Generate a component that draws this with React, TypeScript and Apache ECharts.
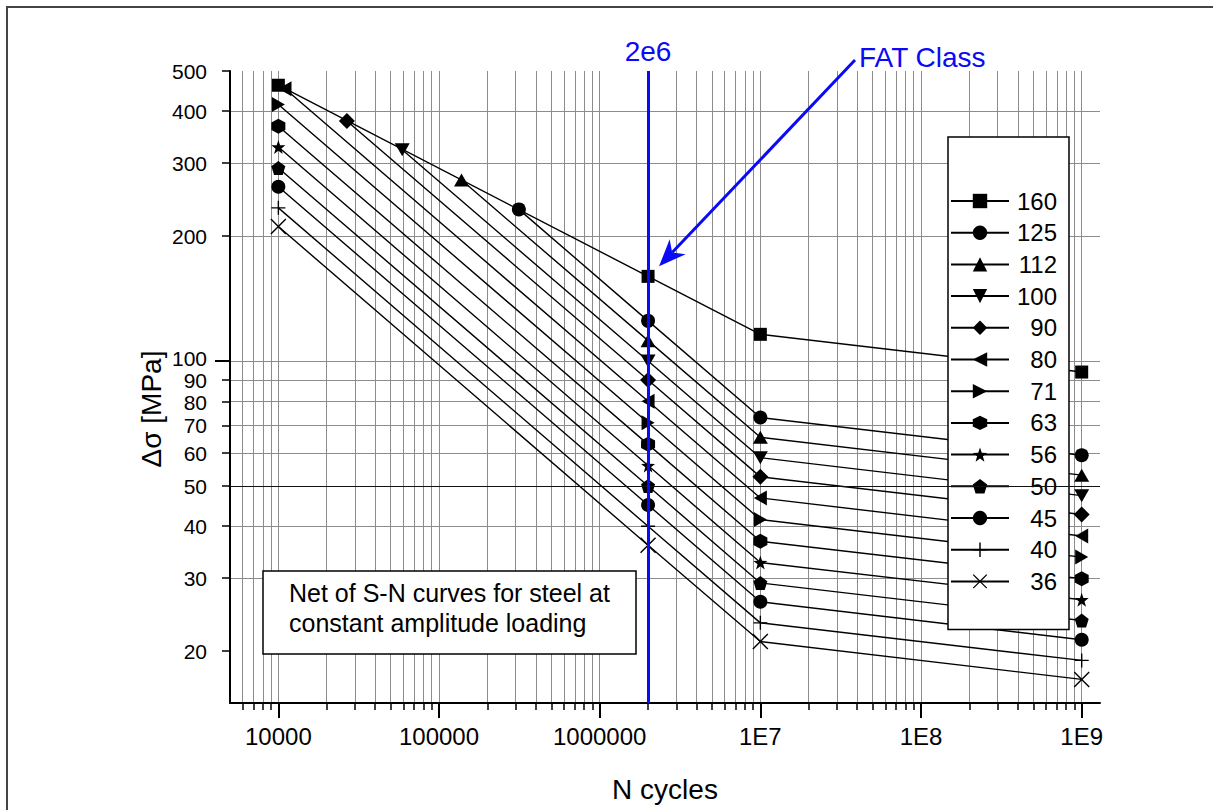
import React, { useEffect, useRef } from 'react';
import * as echarts from 'echarts';

// FAT classes of the S-N curves (legend order)
const fatClasses = ['160', '125', '112', '100', '90', '80', '71', '63', '56', '50', '45', '40', '36'];
// First point of every curve: N = 1e4 or where it meets the FAT 160 curve
const startCycles = [10000, 314000, 138000, 59000, 26700, 11000, 10000, 10000, 10000, 10000, 10000, 10000, 10000];
const startStress = [462, 232, 273, 323, 379, 453, 415, 368, 328, 292, 263, 234, 211];
// Stress ranges at N = 2e6, 1e7 and 1e9
const cyclePoints = [2e6, 1e7, 1e9];
const stressAt2e6 = [160, 125, 112, 100, 90, 80, 71, 63, 56, 50, 45, 40, 36];
const stressAt1e7 = [116, 73.1, 65.5, 58.5, 52.6, 46.8, 41.5, 36.8, 32.7, 29.2, 26.3, 23.4, 21.1];
const stressAt1e9 = [94.1, 59.3, 53.1, 47.4, 42.7, 37.9, 33.7, 29.9, 26.6, 23.7, 21.3, 19.0, 17.1];

// Axis ticks
const xMajorTicks = [1e4, 1e5, 1e6, 1e7, 1e8, 1e9];
const xMajorLabels = ['10000', '100000', '1000000', '1E7', '1E8', '1E9'];
const yTicks = [20, 30, 40, 50, 60, 70, 80, 90, 100, 200, 300, 400, 500];
const yHeavyGrid = 50;

const xGridValues: number[] = [6000, 7000, 8000, 9000];
for (let e = 4; e <= 8; e++) {
  for (let k = 1; k <= 9; k++) xGridValues.push(k * Math.pow(10, e));
}
xGridValues.push(1e9);

const HEXAGON = 'path://M7,0 L14,4 L14,12 L7,16 L0,12 L0,4 Z';
const STAR =
  'path://M10,0 L12.35,6.76 L19.51,6.91 L13.8,11.24 L15.88,18.09 L10,14 L4.12,18.09 L6.2,11.24 L0.49,6.91 L7.65,6.76 Z';
const PENTAGON = 'path://M10,0 L19.51,6.91 L15.88,18.09 L4.12,18.09 L0.49,6.91 Z';
const PLUS = 'path://M6.3,0 L7.7,0 L7.7,6.3 L14,6.3 L14,7.7 L7.7,7.7 L7.7,14 L6.3,14 L6.3,7.7 L0,7.7 L0,6.3 L6.3,6.3 Z';
const CROSS = 'path://M0,1 L1,0 L8,7 L15,0 L16,1 L9,8 L16,15 L15,16 L8,9 L1,16 L0,15 L7,8 Z';

const symbols = ['rect', 'circle', 'triangle', 'triangle', 'diamond', 'triangle', 'triangle', HEXAGON, STAR, PENTAGON, 'circle', PLUS, CROSS];
const symbolSizes: any[] = [13, 14, [15, 13], [15, 13], 16, [15, 13], [15, 13], [14, 15], 14, 14, 14, 14, 16];
const symbolRotates = [0, 0, 0, 180, 0, 90, -90, 0, 0, 0, 0, 0, 0];

const FONT = '"Liberation Sans", Arial, Helvetica, sans-serif';
const BLUE = '#0a0af5';
const GRID_GREY = '#8c8c8c';

// Crowded labels near 100 are nudged apart slightly
function yLabel(v: number) {
  const n = Math.round(v);
  if (n === 100) return `{up|${n}}`;
  if (n === 80) return `{down|${n}}`;
  return `{n|${n}}`;
}

export default function App() {
  const ref = useRef<HTMLDivElement>(null);

  useEffect(() => {
    if (!ref.current) return;
    const chart = echarts.init(ref.current, null, { renderer: 'svg' });

    const curveSeries = fatClasses.map((name, i) => ({
      type: 'line',
      name,
      xAxisIndex: 0,
      yAxisIndex: 0,
      data: [
        [startCycles[i], startStress[i]],
        [cyclePoints[0], stressAt2e6[i]],
        [cyclePoints[1], stressAt1e7[i]],
        [cyclePoints[2], stressAt1e9[i]],
      ],
      symbol: symbols[i],
      symbolSize: symbolSizes[i],
      symbolRotate: symbolRotates[i],
      showAllSymbol: true,
      itemStyle: { color: '#000', borderWidth: 0 },
      lineStyle: { color: '#000', width: 1.4 },
      emphasis: { disabled: true },
      silent: true,
      z: 3,
    }));

    const yLabelStyle = { fontSize: 21, lineHeight: 20, color: '#000', fontFamily: FONT };

    chart.setOption({
      animation: false,
      textStyle: { fontFamily: FONT, color: '#000' },
      grid: { left: 230, top: 71, right: 113, bottom: 107, outerBoundsMode: 'none', containLabel: false },
      legend: {
        data: fatClasses,
        orient: 'vertical',
        left: 948,
        top: 137,
        padding: [52, 12, 36, 2],
        itemWidth: 58,
        itemHeight: 18,
        itemGap: 7.7,
        backgroundColor: '#fff',
        borderColor: '#000',
        borderWidth: 1.5,
        selectedMode: false,
        formatter: (name: string) => `{n|${name}}`,
        textStyle: {
          color: '#000',
          fontSize: 24,
          fontFamily: FONT,
          rich: { n: { width: 43, align: 'right', fontSize: 24, color: '#000', fontFamily: FONT } },
        },
      },
      xAxis: [
        {
          type: 'log',
          logBase: 10,
          min: 5000,
          max: 1.3e9,
          position: 'bottom',
          axisLine: { show: true, onZero: false, lineStyle: { color: '#000', width: 2 } },
          axisTick: { show: true, customValues: xGridValues, length: 7, lineStyle: { color: '#000', width: 1.5 } },
          axisLabel: { show: false },
          splitLine: { show: true, lineStyle: { color: GRID_GREY, width: 1 } },
          minorTick: { show: false },
          minorSplitLine: { show: false },
        },
        {
          type: 'log',
          logBase: 10,
          min: 5000,
          max: 1.3e9,
          position: 'bottom',
          axisLine: { show: false },
          axisTick: { show: true, customValues: xMajorTicks, length: 15, lineStyle: { color: '#000', width: 2 } },
          axisLabel: {
            show: true,
            customValues: xMajorTicks,
            fontSize: 24,
            color: '#000',
            fontFamily: FONT,
            margin: 21,
            formatter: (v: number) => {
              const idx = xMajorTicks.findIndex((t) => Math.abs(Math.log10(t) - Math.log10(v)) < 1e-6);
              return idx >= 0 ? xMajorLabels[idx] : '';
            },
          },
          splitLine: { show: false },
          name: 'N cycles',
          nameLocation: 'middle',
          nameGap: 72,
          nameTextStyle: { fontSize: 28, color: '#000', fontFamily: FONT },
        },
      ],
      yAxis: [
        {
          type: 'log',
          logBase: 10,
          min: 15,
          max: 500,
          position: 'left',
          axisLine: { show: true, onZero: false, lineStyle: { color: '#000', width: 2 } },
          axisTick: { show: true, customValues: yTicks, length: 8, lineStyle: { color: '#000', width: 1.5 } },
          axisLabel: {
            show: true,
            customValues: yTicks,
            margin: 23,
            ...yLabelStyle,
            formatter: yLabel,
            rich: {
              n: { ...yLabelStyle },
              up: { ...yLabelStyle, padding: [0, 0, 6, 0] },
              down: { ...yLabelStyle, padding: [3, 0, 0, 0] },
            },
          },
          splitLine: { show: true, showMaxLine: false, showMinLine: false, lineStyle: { color: GRID_GREY, width: 1 } },
          minorTick: { show: false },
          minorSplitLine: { show: false },
        },
        {
          type: 'log',
          logBase: 10,
          min: 15,
          max: 500,
          position: 'left',
          axisLine: { show: false },
          axisTick: { show: true, customValues: [100], length: 15, lineStyle: { color: '#000', width: 2 } },
          axisLabel: { show: false },
          splitLine: { show: false },
        },
      ],
      series: [
        {
          type: 'line',
          name: 'reference lines',
          data: [],
          xAxisIndex: 0,
          yAxisIndex: 0,
          z: 2,
          silent: true,
          markLine: {
            silent: true,
            symbol: ['none', 'none'],
            emphasis: { disabled: true },
            data: [
              {
                yAxis: yHeavyGrid,
                lineStyle: { color: '#111', width: 1.2, type: 'solid' },
                label: { show: false },
              },
              {
                xAxis: cyclePoints[0],
                lineStyle: { color: BLUE, width: 3, type: 'solid' },
                label: {
                  show: true,
                  position: 'end',
                  formatter: '2e6',
                  color: BLUE,
                  fontSize: 28,
                  fontFamily: FONT,
                  distance: 6,
                },
              },
            ],
          },
        },
        ...curveSeries,
      ],
    });

    // Annotation arrow pointing at the FAT 160 point at N = 2e6
    const p = chart.convertToPixel({ xAxisIndex: 0, yAxisIndex: 0 }, [cyclePoints[0], stressAt2e6[0]]) as number[];
    const tip = [p[0] + 11, p[1] - 10];
    const start = [855, 60];
    const dx = tip[0] - start[0];
    const dy = tip[1] - start[1];
    const len = Math.hypot(dx, dy);
    const ux = dx / len;
    const uy = dy / len;
    const px = -uy;
    const py = ux;
    const headLen = 27;
    const headHalf = 11;
    const notch = 19;
    const base = [tip[0] - ux * headLen, tip[1] - uy * headLen];
    const notchPt = [tip[0] - ux * notch, tip[1] - uy * notch];

    chart.setOption({
      graphic: [
        {
          type: 'rect',
          id: 'frame',
          silent: true,
          z: 0,
          shape: { x: 7, y: 7, width: 1250, height: 850 },
          style: { fill: 'none', stroke: '#444', lineWidth: 2 },
        },
        {
          type: 'group',
          id: 'note',
          z: 10,
          children: [
            {
              type: 'rect',
              z: 10,
              shape: { x: 263, y: 571, width: 373, height: 83 },
              style: { fill: '#fff', stroke: '#000', lineWidth: 1.5 },
            },
            {
              type: 'text',
              z: 11,
              x: 289,
              y: 578,
              style: {
                text: 'Net of S-N curves for steel at\nconstant amplitude loading',
                fill: '#000',
                font: `25px ${FONT}`,
                lineHeight: 30,
                align: 'left',
                verticalAlign: 'top',
              },
            },
          ],
        },
        {
          type: 'text',
          id: 'ytitle',
          z: 10,
          x: 151,
          y: 409,
          rotation: Math.PI / 2,
          style: {
            text: 'Δσ [MPa]',
            fill: '#000',
            font: `28px ${FONT}`,
            align: 'center',
            verticalAlign: 'middle',
          },
        },
        {
          type: 'line',
          id: 'arrowShaft',
          z: 10,
          shape: { x1: start[0], y1: start[1], x2: notchPt[0], y2: notchPt[1] },
          style: { stroke: BLUE, lineWidth: 3 },
        },
        {
          type: 'polygon',
          id: 'arrowHead',
          z: 10,
          shape: {
            points: [
              tip,
              [base[0] + px * headHalf, base[1] + py * headHalf],
              notchPt,
              [base[0] - px * headHalf, base[1] - py * headHalf],
            ],
          },
          style: { fill: BLUE },
        },
        {
          type: 'text',
          id: 'fatLabel',
          z: 10,
          x: 859,
          y: 57,
          style: {
            text: 'FAT Class',
            fill: BLUE,
            font: `28px ${FONT}`,
            align: 'left',
            verticalAlign: 'middle',
          },
        },
      ],
    });

    return () => chart.dispose();
  }, []);

  return (
    <div
      ref={ref}
      style={{ position: 'absolute', left: 0, top: 0, width: 1213, height: 810, background: '#fff' }}
    />
  );
}
